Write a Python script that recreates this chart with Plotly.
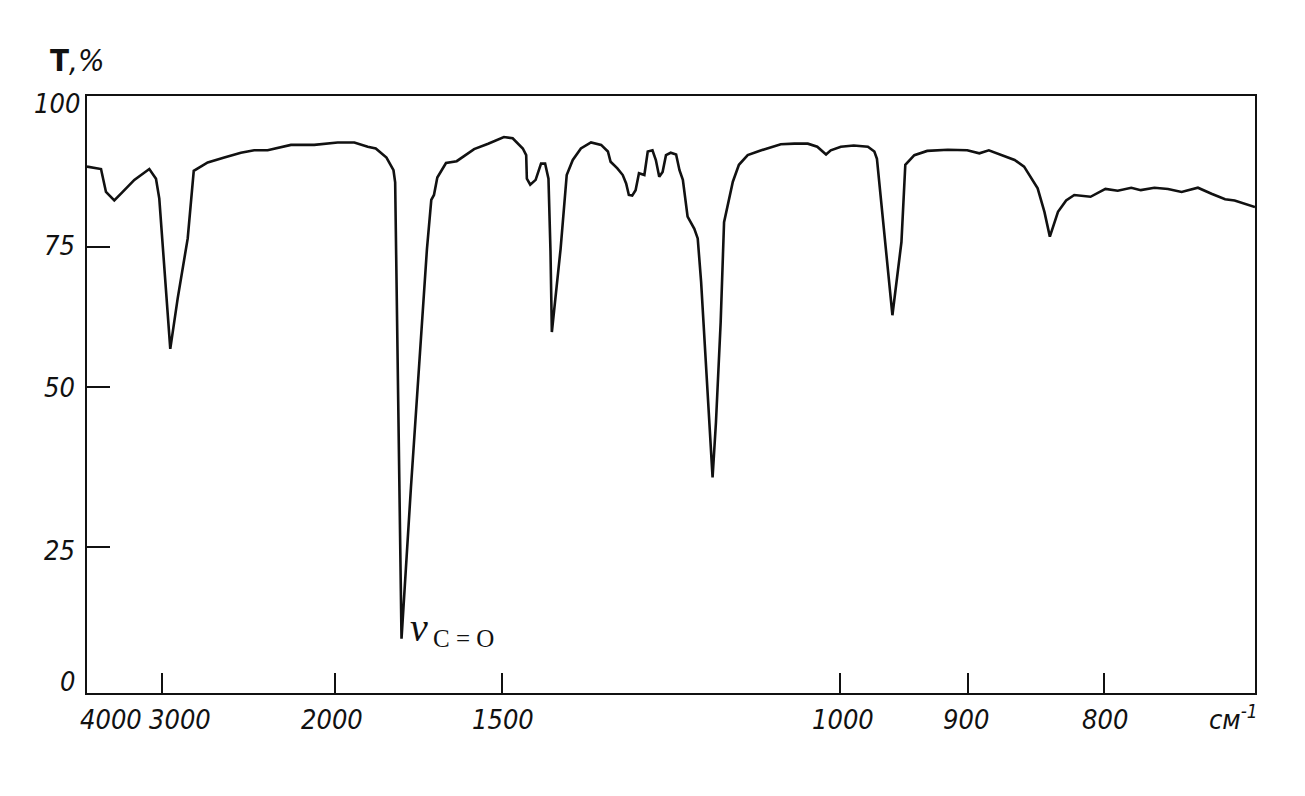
import numpy as np
import plotly.graph_objects as go

# ---- data: IR spectrum (wavenumber, cm^-1 ; transmittance, %) ----
WAVENUMBER = [
    4000, 3813, 3747, 3636, 3524, 3369, 3169, 3080, 3036, 2987, 2952, 2909, 2851, 2816,
    2735, 2639, 2543, 2466, 2388, 2253, 2118, 1991, 1941, 1901, 1877, 1845, 1824, 1819,
    1808, 1800, 1772, 1745, 1724, 1711, 1703, 1693, 1667, 1635, 1614, 1583, 1541, 1497,
    1484, 1469, 1464, 1463, 1458, 1450, 1442, 1436, 1431, 1428, 1426, 1420, 1413, 1404,
    1395, 1383, 1368, 1353, 1343, 1339, 1329, 1321, 1316, 1312, 1307, 1302, 1297, 1289,
    1284, 1277, 1272, 1267, 1262, 1257, 1250, 1242, 1237, 1232, 1228, 1225, 1215, 1210,
    1205, 1198, 1191, 1188, 1183, 1176, 1171, 1164, 1158, 1149, 1136, 1119, 1087, 1067,
    1047, 1033, 1020, 1013, 999, 989, 978, 973, 971, 959, 952, 949, 942, 932, 916, 901,
    892, 885, 876, 866, 859, 849, 844, 840, 834, 828, 822, 810, 799, 790, 780, 773, 763,
    753, 743, 731, 721, 711, 704, 689,
]
TRANSMITTANCE = [
    88.3, 87.9, 84.1, 82.7, 84.1, 86.1, 87.9, 86.3, 83.0, 71.7, 56.8, 65.8, 76.4, 87.6,
    89.0, 89.8, 90.6, 91.0, 91.0, 91.9, 91.9, 92.3, 92.3, 91.6, 91.3, 89.8, 87.7, 85.7,
    39.7, 9.3, 34.2, 57.0, 74.6, 82.8, 83.6, 86.5, 88.9, 89.2, 90.0, 91.2, 92.1, 93.2,
    93.0, 91.3, 90.2, 86.3, 85.3, 86.1, 88.8, 88.8, 86.3, 74.1, 59.8, 66.4, 74.7, 86.9,
    89.4, 91.3, 92.3, 91.9, 90.8, 89.1, 88.0, 86.9, 85.5, 83.6, 83.5, 84.4, 87.2, 86.9,
    90.8, 91.0, 89.4, 86.6, 87.4, 90.2, 90.6, 90.3, 87.7, 86.1, 83.0, 80.0, 78.0, 76.4,
    68.8, 54.5, 41.9, 35.9, 44.5, 61.6, 79.1, 83.0, 85.8, 88.6, 90.2, 90.9, 92.0, 92.1,
    92.1, 91.6, 90.3, 91.0, 91.6, 91.8, 91.6, 90.8, 89.6, 62.8, 75.8, 88.6, 90.2, 90.9,
    91.1, 91.0, 90.5, 91.0, 90.2, 89.4, 88.3, 84.7, 80.8, 76.7, 80.8, 82.7, 83.6, 83.3,
    84.6, 84.3, 84.8, 84.4, 84.8, 84.6, 84.1, 84.8, 83.8, 82.9, 82.7, 81.6,
]

X_TICKS = [4000, 3000, 2000, 1500, 1000, 900, 800]
X_TICK_LABELS = ["4000", "3000", "2000", "1500", "1000", "900", "800"]
Y_TICKS = [0, 25, 50, 75, 100]
Y_TICK_LABELS = ["0", "25", "50", "75", "100"]

# ---- the instrument's non-uniform chart scales (value -> fraction of axis) ----
X_SCALE_NU = [4000, 3000, 2000, 1500, 1000, 900, 800, 689]
X_SCALE_POS = [0.0, 0.0642, 0.2120, 0.3552, 0.6443, 0.7547, 0.8708, 1.0]
Y_SCALE_T = [0, 25, 50, 75, 100]
Y_SCALE_POS = [0.0, 0.2443, 0.5126, 0.7473, 1.0]


def xpos(nu):
    return np.interp(-np.asarray(nu, float), -np.asarray(X_SCALE_NU, float), X_SCALE_POS)


def ypos(t):
    return np.interp(np.asarray(t, float), Y_SCALE_T, Y_SCALE_POS)


FONT = "DejaVu Sans Condensed, Liberation Sans Narrow, sans-serif"
SERIF = "Liberation Serif, DejaVu Serif, serif"
INK = "#111111"
LABEL_SIZE = 27

fig = go.Figure()
fig.add_trace(go.Scatter(
    x=xpos(WAVENUMBER), y=ypos(TRANSMITTANCE), mode="lines",
    line=dict(color=INK, width=2.6), hoverinfo="skip", showlegend=False,
))

fig.update_layout(
    width=1305, height=796,
    margin=dict(l=79, r=58, t=88, b=111),
    paper_bgcolor="white", plot_bgcolor="white",
    showlegend=False,
    xaxis=dict(
        range=[0, 1], showgrid=False, zeroline=False,
        showline=True, mirror=True, linecolor=INK, linewidth=2.2,
        ticks="inside", ticklen=20, tickwidth=1.6, tickcolor=INK,
        tickvals=list(xpos(X_TICKS[1:])), showticklabels=False,
        fixedrange=True,
    ),
    yaxis=dict(
        range=[0, 1], showgrid=False, zeroline=False,
        showline=True, mirror=True, linecolor=INK, linewidth=2.2,
        ticks="inside", ticklen=23, tickwidth=2.2, tickcolor=INK,
        tickvals=list(ypos(Y_TICKS[1:4])), showticklabels=False,
        fixedrange=True,
    ),
)

# x tick labels (hand-placed like on the original chart)
x_shifts = [24, 18, -3, 1, 3, -2, 1]
for v, lab, sh in zip(X_TICKS, X_TICK_LABELS, x_shifts):
    fig.add_annotation(
        x=float(xpos(v)), y=0, xref="x", yref="paper",
        text=f"<i>{lab}</i>", showarrow=False,
        xanchor="center", yanchor="middle", xshift=sh, yshift=-26,
        font=dict(family=FONT, size=LABEL_SIZE, color=INK),
    )

# unit label
fig.add_annotation(
    x=1, y=0, xref="paper", yref="paper",
    text="<i>см<sup>-1</sup></i>", showarrow=False,
    xanchor="center", yanchor="middle", xshift=-22, yshift=-24,
    font=dict(family=FONT, size=LABEL_SIZE, color=INK),
)

# y tick labels
y_shifts = [12, -3, -1, 1, -7]
for v, lab, sh in zip(Y_TICKS, Y_TICK_LABELS, y_shifts):
    fig.add_annotation(
        x=0, y=float(ypos(v)), xref="paper", yref="y",
        text=f"<i>{lab}</i>", showarrow=False,
        xanchor="right", yanchor="middle", xshift=-10 if v != 100 else -5, yshift=sh,
        font=dict(family=FONT, size=LABEL_SIZE, color=INK),
    )

# axis title T,%
fig.add_annotation(
    x=0, y=1, xref="paper", yref="paper",
    text="<b>T</b><i>,%</i>", showarrow=False,
    xanchor="left", yanchor="middle", xshift=-39, yshift=36,
    font=dict(family=FONT, size=31, color=INK),
)

# band label nu C=O
fig.add_annotation(
    x=float(xpos(1800)), y=0, xref="x", yref="paper",
    text="<i>ν</i>", showarrow=False,
    xanchor="left", yanchor="middle", xshift=6, yshift=66,
    font=dict(family=SERIF, size=40, color=INK),
)
fig.add_annotation(
    x=float(xpos(1800)), y=0, xref="x", yref="paper",
    text="C = O", showarrow=False,
    xanchor="left", yanchor="middle", xshift=29, yshift=55,
    font=dict(family=SERIF, size=25, color=INK),
)

fig.write_html("out.html")
